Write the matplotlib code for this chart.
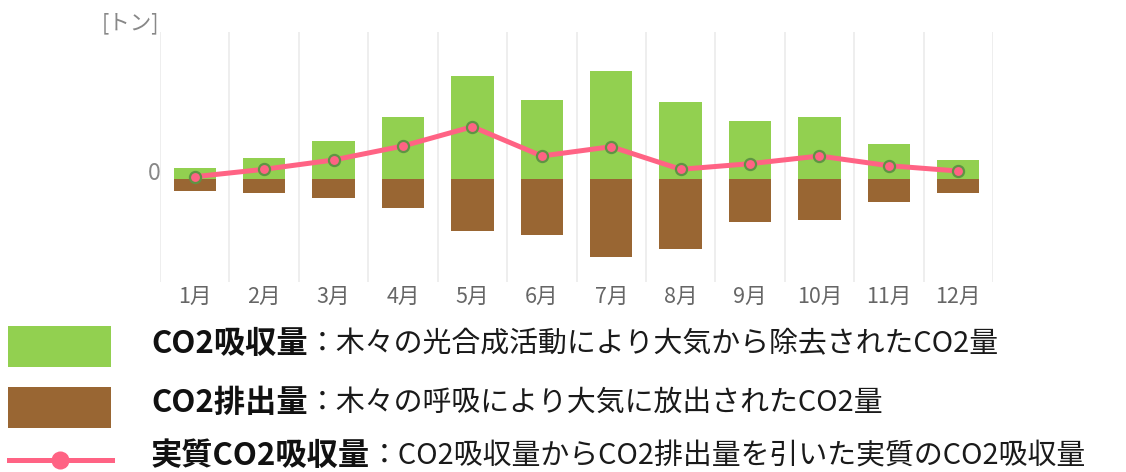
import matplotlib
matplotlib.use("Agg")
import matplotlib.pyplot as plt
from matplotlib.patches import Rectangle
from matplotlib.lines import Line2D

plt.rcParams['font.family'] = ['Noto Sans CJK JP', 'DejaVu Sans']

months = ["1月", "2月", "3月", "4月", "5月", "6月", "7月", "8月", "9月", "10月", "11月", "12月"]
absorb = [11.6, 21.3, 38.6, 62.0, 103.3, 79.3, 108.6, 77.6, 58.3, 62.0, 35.0, 19.6]
emit = [-11.4, -13.4, -19.0, -29.0, -51.7, -56.0, -77.4, -69.7, -42.4, -40.7, -23.0, -13.4]
net = [2.6, 10.0, 19.3, 33.3, 52.6, 23.3, 32.6, 10.0, 15.6, 23.3, 13.6, 8.3]

legend_bold = ["CO2吸収量", "CO2排出量", "実質CO2吸収量"]
legend_desc = ["：木々の光合成活動により大気から除去されたCO2量",
               "：木々の呼吸により大気に放出されたCO2量",
               "：CO2吸収量からCO2排出量を引いた実質のCO2吸収量"]

GREEN = "#92d050"
BROWN = "#996633"
PINK = "#ff6384"

W, H = 1126, 472
fig = plt.figure(figsize=(W / 100, H / 100), dpi=100)
ax = fig.add_axes([160 / W, 1 - 282 / H, (993 - 160) / W, (282 - 32) / H])

x = list(range(len(months)))
ax.bar(x, absorb, width=0.61, color=GREEN, zorder=2)
ax.bar(x, emit, width=0.61, color=BROWN, zorder=2)
ax.plot(x, net, color=PINK, lw=3.6, marker='o', markersize=8,
        markerfacecolor=PINK, markeredgecolor="#5f9444", markeredgewidth=1.6,
        zorder=3, solid_joinstyle='round')

ax.set_xlim(-0.5, len(months) - 0.5)
ax.set_ylim(-102.7, 147.3)
for b in [i - 0.5 for i in range(len(months) + 1)]:
    ax.axvline(b, color="#ebebeb", lw=1.2, zorder=0)
for s in ax.spines.values():
    s.set_visible(False)
ax.set_yticks([])
ax.set_xticks(x)
ax.set_xticklabels(months, fontsize=15.5, color="#666666")
ax.tick_params(axis='x', length=0, pad=3)

fig.text(161 / W, 1 - 174 / H, "0", ha='right', va='center', fontsize=16.5, color="#888888")
fig.text(159 / W, 1 - 23 / H, "[トン]", ha='right', va='center', fontsize=15.5, color="#888888")

# Legend
fig.patches.append(Rectangle((8 / W, 1 - 367 / H), 103 / W, 41 / H, transform=fig.transFigure,
                             facecolor=GREEN, edgecolor='none'))
fig.patches.append(Rectangle((8 / W, 1 - 428 / H), 103 / W, 41 / H, transform=fig.transFigure,
                             facecolor=BROWN, edgecolor='none'))
fig.lines.append(Line2D([9 / W, 112 / W], [1 - 460 / H, 1 - 460 / H], transform=fig.transFigure,
                        color=PINK, lw=3.6))
fig.lines.append(Line2D([60 / W], [1 - 460 / H], transform=fig.transFigure, color=PINK,
                        marker='o', markersize=13, markeredgewidth=0))

renderer = fig.canvas.get_renderer()
ys = [344, 403, 456]
for yb, bt, dt in zip(ys, legend_bold, legend_desc):
    t = fig.text(151 / W, 1 - yb / H, bt, ha='left', va='center', fontsize=22.5,
                 fontweight='bold', color="#111111")
    bb = t.get_window_extent(renderer=renderer)
    fig.text(bb.x1 / W, 1 - yb / H, dt, ha='left', va='center', fontsize=20.8, color="#1a1a1a")

fig.savefig("out.png", dpi=100)
